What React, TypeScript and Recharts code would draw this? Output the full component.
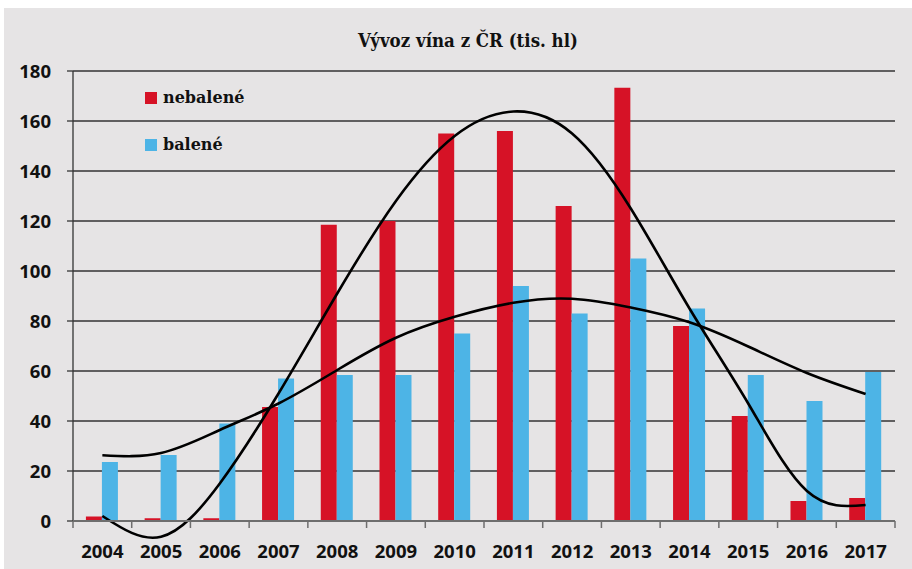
import React from 'react';
import {
  ComposedChart,
  Bar,
  Line,
  XAxis,
  YAxis,
  CartesianGrid,
} from 'recharts';

const title = 'Vývoz vína z ČR (tis. hl)';
const years = ['2004', '2005', '2006', '2007', '2008', '2009', '2010', '2011', '2012', '2013', '2014', '2015', '2016', '2017'];
const nebalene = [1.8, 1.1, 1.1, 45.6, 118.5, 120, 155, 156, 126, 173.3, 78, 42, 8, 9.2];
const balene = [23.6, 26.4, 39, 57, 58.4, 58.4, 75, 94, 83, 105, 85, 58.4, 48, 59.6];
const trendNebalene = [2.0, -6.3, 15, 51, 91, 128, 154, 163.8, 155, 125, 85, 47, 12, 6.4];
const trendBalene = [26.3, 27.2, 36.4, 47, 60.4, 73.3, 81.7, 87.3, 88.9, 85.4, 79.5, 69.8, 59.2, 50.8];
const yTicks = [0, 20, 40, 60, 80, 100, 120, 140, 160, 180];

const RED = '#D61226';
const BLUE = '#4DB4E6';
const BG = '#E6E4E5';
const AXIS_GRAY = '#6e6e6e';

const legendItems = [
  { name: 'nebalené', color: RED },
  { name: 'balené', color: BLUE },
];

const data = years.map((y, i) => ({
  year: y,
  nebalene: nebalene[i],
  balene: balene[i],
  tN: trendNebalene[i],
  tB: trendBalene[i],
}));

const tickFont = { fontFamily: "'Open Sans', sans-serif", fontWeight: 700, fontSize: 18.5, fill: '#111' };

const YearTick = (props: any) => {
  const { x, y, payload, index, visibleTicksCount } = props;
  const half = payload && payload.offset ? payload.offset : 0;
  const isLast = index === (visibleTicksCount ?? years.length) - 1;
  return (
    <g>
      <line x1={x - half} x2={x - half} y1={y} y2={y + 7} stroke={AXIS_GRAY} strokeWidth={1.5} />
      {isLast && <line x1={x + half} x2={x + half} y1={y} y2={y + 7} stroke={AXIS_GRAY} strokeWidth={1.5} />}
      <text x={x} y={y + 24} dy="0.71em" textAnchor="middle" {...tickFont}>
        {payload.value}
      </text>
    </g>
  );
};

export default function App() {
  return (
    <div style={{ position: 'absolute', left: 4, top: 8, width: 908, height: 561, background: BG }}>
      <style>{`.recharts-wrapper svg g[clip-path], .recharts-wrapper svg path[clip-path] { clip-path: none !important; }`}</style>
      <div
        style={{
          position: 'absolute',
          left: 0,
          width: 928,
          top: 22,
          textAlign: 'center',
          fontFamily: "'DejaVu Serif Condensed', 'DejaVu Serif', serif",
          fontStretch: 'condensed',
          fontWeight: 700,
          fontSize: 18.5,
          lineHeight: '22px',
          color: '#111',
          zIndex: 2,
        }}
      >
        {title}
      </div>
      <div style={{ position: 'absolute', left: 141, top: 66, zIndex: 2 }}>
        {legendItems.map((p) => (
          <div key={p.name} style={{ display: 'flex', alignItems: 'center', height: 47 }}>
            <span style={{ display: 'inline-block', width: 12, height: 12, background: p.color, marginRight: 6 }} />
            <span style={{ fontFamily: "'DejaVu Serif', serif", fontWeight: 700, fontSize: 16, color: '#111' }}>
              {p.name}
            </span>
          </div>
        ))}
      </div>
      <ComposedChart
        width={908}
        height={561}
        data={data}
        margin={{ top: 63, right: 17, bottom: 8, left: 0 }}
        barCategoryGap="22%"
        barGap={0}
      >
        <CartesianGrid horizontal vertical={false} stroke="#333" strokeWidth={1.3} />
        <YAxis
          domain={[0, 180]}
          ticks={yTicks}
          allowDataOverflow
          width={69}
          axisLine={{ stroke: '#333', strokeWidth: 1.3 }}
          tickLine={{ stroke: '#333', strokeWidth: 1.3 }}
          tickSize={6}
          tickMargin={16}
          tick={tickFont}
          interval={0}
        />
        <XAxis
          dataKey="year"
          height={40}
          axisLine={{ stroke: AXIS_GRAY, strokeWidth: 2 }}
          tickLine={false}
          tickSize={0}
          tickMargin={0}
          tick={<YearTick />}
          interval={0}
        />
        <Bar dataKey="nebalene" name={legendItems[0].name} fill={RED} isAnimationActive={false} />
        <Bar dataKey="balene" name={legendItems[1].name} fill={BLUE} isAnimationActive={false} />
        <Line
          dataKey="tN"
          type="natural"
          stroke="#000"
          strokeWidth={2.6}
          dot={false}
          activeDot={false}
          legendType="none"
          isAnimationActive={false}
        />
        <Line
          dataKey="tB"
          type="natural"
          stroke="#000"
          strokeWidth={2.6}
          dot={false}
          activeDot={false}
          legendType="none"
          isAnimationActive={false}
        />
      </ComposedChart>
    </div>
  );
}
